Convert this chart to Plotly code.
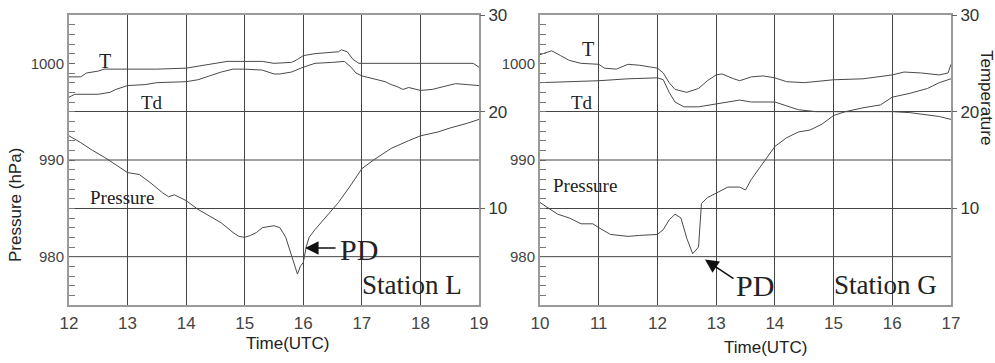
import plotly.graph_objects as go

# ---------------- Station L (left panel) ----------------
L_T_time = [12.0, 12.2, 12.3, 12.5, 12.6, 13.0, 13.5, 14.0, 14.2, 14.5, 14.7, 15.0, 15.3, 15.5,
            15.8, 15.9, 16.0, 16.2, 16.4, 16.6, 16.65, 16.75, 16.85, 16.95, 17.0, 17.5, 18.0,
            18.5, 18.9, 19.0]
L_T = [23.6, 23.6, 24.0, 24.2, 24.4, 24.4, 24.4, 24.5, 24.7, 25.0, 25.2, 25.2, 25.2, 25.0,
       25.1, 25.4, 25.8, 26.0, 26.1, 26.2, 26.4, 26.2, 25.4, 25.0, 25.0, 25.0, 25.0,
       25.0, 25.0, 24.6]

L_Td_time = [12.0, 12.1, 12.5, 12.7, 12.8, 13.0, 13.3, 13.5, 14.0, 14.2, 14.4, 14.6, 14.8, 15.0,
             15.3, 15.5, 15.6, 15.8, 16.0, 16.2, 16.5, 16.7, 16.8, 16.9, 17.0, 17.2, 17.4, 17.5,
             17.6, 17.7, 17.8, 18.0, 18.2, 18.4, 18.6, 18.8, 19.0]
L_Td = [21.5, 21.8, 21.8, 22.0, 22.3, 22.7, 22.8, 23.0, 23.1, 23.3, 23.7, 24.1, 24.4, 24.4,
        24.3, 23.9, 23.9, 24.1, 24.6, 25.0, 25.1, 25.2, 24.7, 24.0, 23.7, 23.4, 23.1, 22.8,
        22.6, 22.3, 22.5, 22.2, 22.3, 22.6, 22.9, 22.8, 22.7]

L_P_time = [12.0, 12.2, 12.4, 12.6, 12.8, 13.0, 13.2, 13.4, 13.6, 13.7, 13.8, 13.9, 14.0, 14.2,
            14.4, 14.6, 14.8, 14.9, 15.0, 15.1, 15.2, 15.3, 15.5, 15.6, 15.7, 15.8, 15.85, 15.9,
            15.95, 16.0, 16.05, 16.1, 16.2, 16.4, 16.6, 16.8, 17.0, 17.2, 17.5, 17.8, 18.0,
            18.3, 18.5, 18.8, 19.0]
L_P = [992.5, 991.8, 991.0, 990.3, 989.5, 988.7, 988.5, 987.6, 986.6, 986.2, 986.4, 986.1, 985.8, 984.9,
       984.2, 983.5, 982.5, 982.1, 982.0, 982.2, 982.5, 983.0, 983.2, 983.0, 982.0, 980.2, 979.2, 978.2,
       979.0, 979.4, 981.0, 982.0, 982.8, 984.2, 985.6, 987.3, 989.1, 990.0, 991.2, 992.0, 992.5,
       992.9, 993.3, 993.8, 994.2]

# ---------------- Station G (right panel) ----------------
G_T_time = [10.0, 10.1, 10.2, 10.35, 10.5, 10.7, 11.0, 11.1, 11.3, 11.5, 11.7, 11.9, 12.0, 12.1,
            12.2, 12.3, 12.5, 12.7, 12.85, 13.0, 13.1, 13.3, 13.4, 13.6, 13.8, 14.0, 14.2, 14.5,
            14.8, 15.0, 15.5, 16.0, 16.2, 16.5, 16.8, 16.95, 17.0]
G_T = [25.9, 26.1, 26.3, 25.8, 25.3, 25.0, 24.9, 24.5, 24.4, 24.9, 24.8, 24.6, 24.5, 24.0,
       23.0, 22.3, 22.0, 22.4, 23.2, 23.8, 23.9, 23.4, 23.2, 23.6, 23.7, 23.5, 23.1, 23.0,
       23.2, 23.3, 23.4, 23.8, 24.1, 24.0, 23.8, 24.0, 24.9]

G_Td_time = [10.0, 10.5, 11.0, 11.5, 12.0, 12.1, 12.2, 12.3, 12.45, 12.7, 13.0, 13.2, 13.4, 13.6,
             14.0, 14.2, 14.4, 14.7, 15.0, 15.5, 16.0, 16.3, 16.6, 16.8, 17.0]
G_Td = [23.0, 23.1, 23.2, 23.4, 23.5, 23.3, 22.0, 21.0, 20.5, 20.5, 20.8, 21.0, 21.2, 21.0,
        21.0, 20.6, 20.2, 20.0, 20.0, 20.0, 20.0, 19.9, 19.7, 19.5, 19.2]

G_P_time = [10.0, 10.15, 10.3, 10.5, 10.7, 10.9, 11.0, 11.2, 11.5, 11.7, 12.0, 12.1, 12.2, 12.3,
            12.4, 12.5, 12.6, 12.7, 12.75, 12.85, 13.0, 13.2, 13.4, 13.5, 13.6, 13.8, 14.0, 14.2,
            14.4, 14.6, 14.8, 15.0, 15.2, 15.5, 15.8, 16.0, 16.3, 16.6, 16.8, 17.0]
G_P = [985.6, 985.0, 984.4, 984.0, 983.4, 983.4, 983.0, 982.3, 982.1, 982.2, 982.3, 982.8, 983.8, 984.4,
       984.0, 981.9, 980.3, 981.0, 985.5, 986.1, 986.6, 987.2, 987.2, 986.9, 988.0, 989.7, 991.4, 992.3,
       992.9, 993.1, 993.7, 994.6, 995.0, 995.4, 995.7, 996.5, 996.9, 997.4, 998.0, 998.4]

# axis settings
P_RANGE = [975, 1005]
T_RANGE = [0, 30]
P_TICKS = [980, 990, 1000]
T_TICKS = [10, 20, 30]
P_GRID = [980, 990]

LINE = "#4a4a4a"
GRID = "#444444"
FRAME = "#9a9a9a"
SANS = "Liberation Sans, Arial, sans-serif"
SERIF = "Liberation Serif, Times New Roman, serif"

fig = go.Figure()

fig.add_trace(go.Scatter(x=L_P_time, y=L_P, mode="lines", line=dict(color=LINE, width=1), xaxis="x", yaxis="y"))
fig.add_trace(go.Scatter(x=L_T_time, y=L_T, mode="lines", line=dict(color=LINE, width=1), xaxis="x", yaxis="y2"))
fig.add_trace(go.Scatter(x=L_Td_time, y=L_Td, mode="lines", line=dict(color=LINE, width=1), xaxis="x", yaxis="y2"))
fig.add_trace(go.Scatter(x=G_P_time, y=G_P, mode="lines", line=dict(color=LINE, width=1), xaxis="x2", yaxis="y3"))
fig.add_trace(go.Scatter(x=G_T_time, y=G_T, mode="lines", line=dict(color=LINE, width=1), xaxis="x2", yaxis="y4"))
fig.add_trace(go.Scatter(x=G_Td_time, y=G_Td, mode="lines", line=dict(color=LINE, width=1), xaxis="x2", yaxis="y4"))

W, H = 995, 363
ydom = [(H - 305) / H, (H - 15) / H]

def xax(dom, rng, anchor):
    return dict(domain=dom, range=rng, anchor=anchor, dtick=1, tick0=rng[0], showgrid=True, gridcolor=GRID,
                gridwidth=1, showline=True, linecolor=FRAME, linewidth=2, mirror=True, ticks="",
                zeroline=False, automargin=False,
                tickfont=dict(family=SANS, size=17, color="#444"), ticklabelstandoff=2)

def pax(anchor):
    return dict(domain=ydom, range=P_RANGE, anchor=anchor, tickvals=P_TICKS, ticks="inside", ticklen=6,
                tickcolor="#666", minor=dict(ticks="inside", dtick=1, tick0=975, ticklen=6, tickcolor="#777"),
                showgrid=False, zeroline=False, showline=True, linecolor=FRAME, linewidth=2, mirror=True,
                automargin=False, tickfont=dict(family=SANS, size=15, color="#444"))

def tax(overlay, anchor):
    return dict(range=T_RANGE, overlaying=overlay, anchor=anchor, side="right", tickvals=T_TICKS,
                ticks="outside", ticklen=5, tickcolor="#666", showgrid=True, gridcolor=GRID, gridwidth=1,
                zeroline=False, showline=False, automargin=False,
                tickfont=dict(family=SANS, size=17, color="#333"))

xl = [69 / W, 479 / W]
xr = [540 / W, 951 / W]

shapes = []
for xref, yref in [("x domain", "y"), ("x2 domain", "y3")]:
    for p in P_GRID:
        shapes.append(dict(type="line", xref=xref, yref=yref, x0=0, x1=1, y0=p, y1=p,
                           line=dict(color=GRID, width=1), layer="below"))

ann = []
def txt(x, y, s, size, font=SERIF, **kw):
    d = dict(x=x / W, y=1 - y / H, xref="paper", yref="paper", text=s, showarrow=False,
             xanchor="center", yanchor="middle",
             font=dict(family=font, size=size, color="#222"))
    d.update(kw)
    ann.append(d)

# axis titles (pixel centres)
txt(15, 205, "Pressure (hPa)", 17, font=SANS, textangle=-90)
txt(287, 343, "Time(UTC)", 17, font=SANS)
txt(765, 347, "Time(UTC)", 17, font=SANS)
txt(986, 97, "Temperature", 17, font=SANS, textangle=90)

# series labels (left)
txt(105, 61, "T", 20)
txt(152, 103, "Td", 19)
txt(122, 197, "Pressure", 19)
txt(359, 249, "PD", 30)
txt(412, 285, "Station L", 27)
# series labels (right)
txt(588, 49, "T", 20)
txt(582, 103, "Td", 19)
txt(585, 186, "Pressure", 19)
txt(755, 285, "PD", 30)
txt(885, 285, "Station G", 27)

# PD arrows
ann.append(dict(x=16.03, y=980.9, xref="x", yref="y", ax=32, ay=0,
                text="", showarrow=True, arrowhead=2, arrowsize=1.8, arrowwidth=1.5, arrowcolor="#111"))
ann.append(dict(x=12.81, y=979.7, xref="x2", yref="y3", ax=30, ay=20, text="", showarrow=True,
                arrowhead=2, arrowsize=1.8, arrowwidth=1.5, arrowcolor="#111"))

fig.update_layout(
    width=W, height=H, autosize=False,
    margin=dict(l=0, r=0, t=0, b=0, autoexpand=False),
    paper_bgcolor="white", plot_bgcolor="white",
    showlegend=False,
    xaxis=xax(xl, [12, 19], "y"),
    xaxis2=xax(xr, [10, 17], "y3"),
    yaxis=pax("x"),
    yaxis2=tax("y", "x"),
    yaxis3=pax("x2"),
    yaxis4=tax("y3", "x2"),
    shapes=shapes,
    annotations=ann,
)

fig.write_html("out.html", config={"displayModeBar": False},
               post_script="document.body.style.margin='0';document.body.style.overflow='hidden';")
